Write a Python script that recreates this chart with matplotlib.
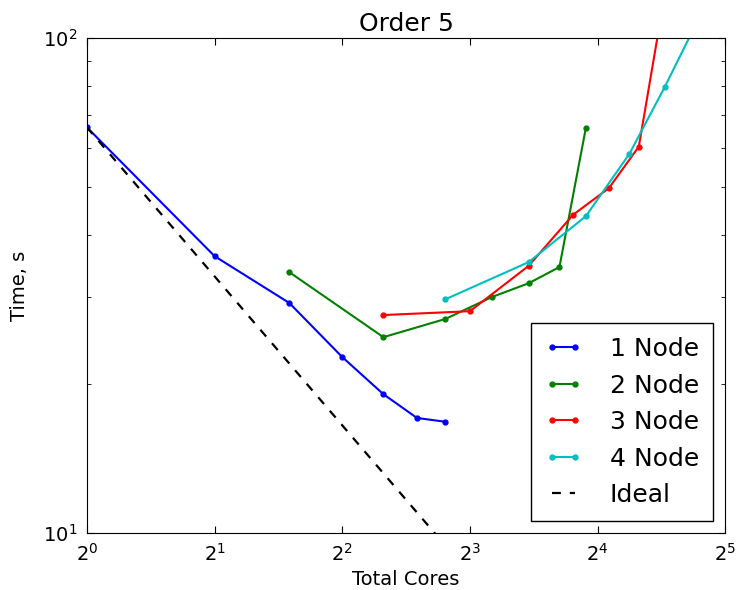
import matplotlib
matplotlib.use("Agg")
import matplotlib.pyplot as plt
import numpy as np

# cores used and run time (s) for each node count
cores_1 = [1, 2, 3, 4, 5, 6, 7]
time_1 = [66.1, 36.3, 29.2, 22.7, 19.1, 17.1, 16.8]

cores_2 = [3, 5, 7, 9, 11, 13, 15]
time_2 = [33.7, 24.9, 27.1, 30.0, 32.0, 34.5, 65.8]

cores_3 = [5, 8, 11, 14, 17, 20, 23]
time_3 = [27.6, 28.1, 34.7, 44.0, 49.8, 60.4, 122.0]

cores_4 = [7, 11, 15, 19, 23, 27]
time_4 = [29.7, 35.3, 43.7, 58.4, 79.6, 105.0]

series = [
    (cores_1, time_1, "b", "1 Node"),
    (cores_2, time_2, "g", "2 Node"),
    (cores_3, time_3, "r", "3 Node"),
    (cores_4, time_4, "c", "4 Node"),
]

ideal_cores = np.array([1, 2, 4, 8, 16, 32])
ideal_time = time_1[0] / ideal_cores

fig = plt.figure(figsize=(7.36, 5.9), dpi=100)
ax = fig.add_axes([0.118, 0.0961, 0.8676, 0.839])

for x, y, c, lab in series:
    ax.plot(x, y, ".-", color=c, lw=1.5, ms=7, label=lab)
ax.plot(ideal_cores, ideal_time, "k--", lw=1.6, dashes=(4, 4), label="Ideal")

ax.set_xscale("log", base=2)
ax.set_yscale("log")
ax.set_xlim(1, 32)
ax.set_ylim(10, 100)

ax.tick_params(which="both", direction="in", top=True, right=True, labelsize=14)
ax.tick_params(which="major", length=5, pad=7)
ax.tick_params(which="minor", length=3)
ax.xaxis.set_minor_locator(matplotlib.ticker.NullLocator())
ax.yaxis.set_minor_formatter(matplotlib.ticker.NullFormatter())

ax.set_title("Order 5", fontsize=18, pad=5)
ax.set_xlabel("Total Cores", fontsize=14)
ax.set_ylabel("Time, s", fontsize=14, labelpad=10)

leg = ax.legend(loc="lower right", fontsize=18, numpoints=2, handlelength=1.5,
                handletextpad=1.1, borderpad=0.55, fancybox=False, framealpha=1)
leg.get_frame().set_edgecolor("black")

fig.savefig("out.png", dpi=100)
